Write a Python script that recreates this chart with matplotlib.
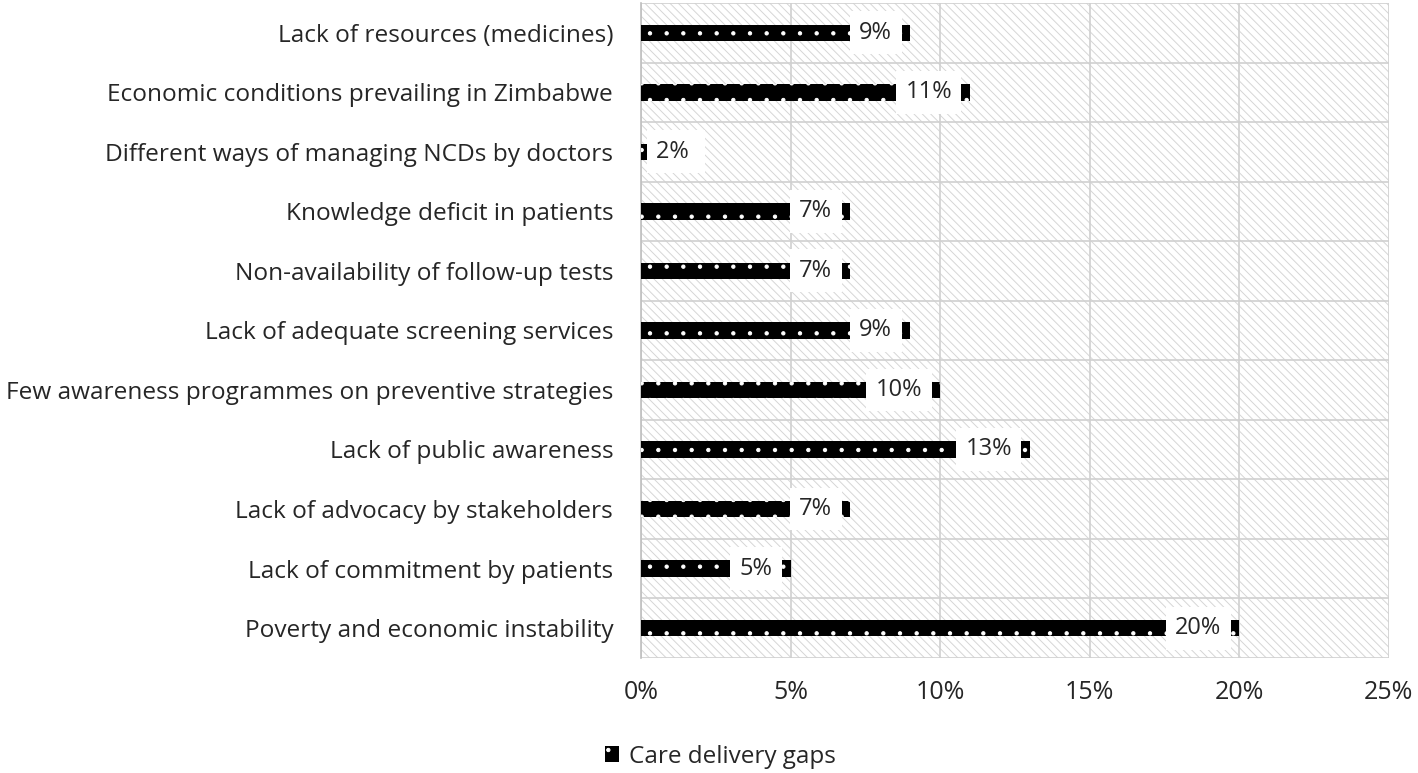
import numpy as np
import matplotlib.pyplot as plt
from matplotlib.patches import Rectangle, Patch
from matplotlib.ticker import FuncFormatter

# 類別與數值（由上至下）
categories = [
    'Lack of resources (medicines)',
    'Economic conditions prevailing in Zimbabwe',
    'Different ways of managing NCDs by doctors',
    'Knowledge deficit in patients',
    'Non-availability of follow-up tests',
    'Lack of adequate screening services',
    'Few awareness programmes on preventive strategies',
    'Lack of public awareness',
    'Lack of advocacy by stakeholders',
    'Lack of commitment by patients',
    'Poverty and economic instability',
]
values = [9, 11, 2, 7, 7, 9, 10, 13, 7, 5, 20]
series_name = 'Care delivery gaps'
xticks = [0, 5, 10, 15, 20, 25]

plt.rcParams['font.family'] = ['Open Sans', 'DejaVu Sans']
plt.rcParams['hatch.linewidth'] = 0.7

fig = plt.figure(figsize=(14.18, 7.73), dpi=100)
ax = fig.add_axes([0.452, 0.149, 0.5275, 0.847])

n = len(categories)
y = np.arange(n)

# 背景斜線填充
bg = Rectangle((0, 0), 1, 1, transform=ax.transAxes, facecolor='white',
               edgecolor='#d6d6d6', hatch='\\\\\\\\', linewidth=0, zorder=0)
ax.add_patch(bg)

# 條形
ax.barh(y, values, height=0.28, color='black', edgecolor='white',
        hatch='.', linewidth=0, zorder=3)

# 數值標籤：條形太短時放在起點右側，白底蓋住條形末端
box = dict(boxstyle='square,pad=0.4', fc='white', ec='none')
for yi, v in zip(y, values):
    if v < 3:
        ax.annotate(f'{v}% ', xy=(0, yi), xytext=(11, 0), textcoords='offset points',
                    ha='left', va='center', fontsize=17, color='#262626',
                    zorder=5, bbox=box)
    else:
        ax.annotate(f'{v}%', xy=(v, yi), xytext=(-13, 0), textcoords='offset points',
                    ha='right', va='center', fontsize=17, color='#262626',
                    zorder=5, bbox=box)

ax.set_xlim(0, 25)
ax.set_ylim(n - 0.5, -0.5)
ax.set_yticks(y)
ax.set_yticklabels(categories, fontsize=17.6, color='#262626')
ax.set_xticks(xticks)
ax.xaxis.set_major_formatter(FuncFormatter(lambda v, p: f'{v:.0f}%'))
ax.tick_params(axis='x', length=0, pad=16, labelsize=18, labelcolor='#262626')
ax.tick_params(axis='y', length=0, pad=20)

# 網格線
ax.set_yticks(np.arange(-0.5, n, 1), minor=True)
ax.tick_params(axis='y', which='minor', length=0)
ax.grid(axis='x', which='major', color='#d0d0d0', linewidth=1.2, zorder=1)
ax.grid(axis='y', which='minor', color='#d0d0d0', linewidth=1.2, zorder=1)
ax.set_axisbelow(True)

for side in ['top', 'right', 'bottom']:
    ax.spines[side].set_visible(False)
ax.spines['left'].set_color('#bfbfbf')
ax.spines['left'].set_linewidth(1.2)

handle = Patch(facecolor='black', edgecolor='white', hatch='.', linewidth=0)
fig.legend([handle], [series_name], loc='center', bbox_to_anchor=(0.508, 0.021),
           frameon=False, fontsize=17.5, handlelength=0.6, handleheight=0.6,
           handletextpad=0.4, labelcolor='#262626')

fig.savefig('out.png', dpi=100)
